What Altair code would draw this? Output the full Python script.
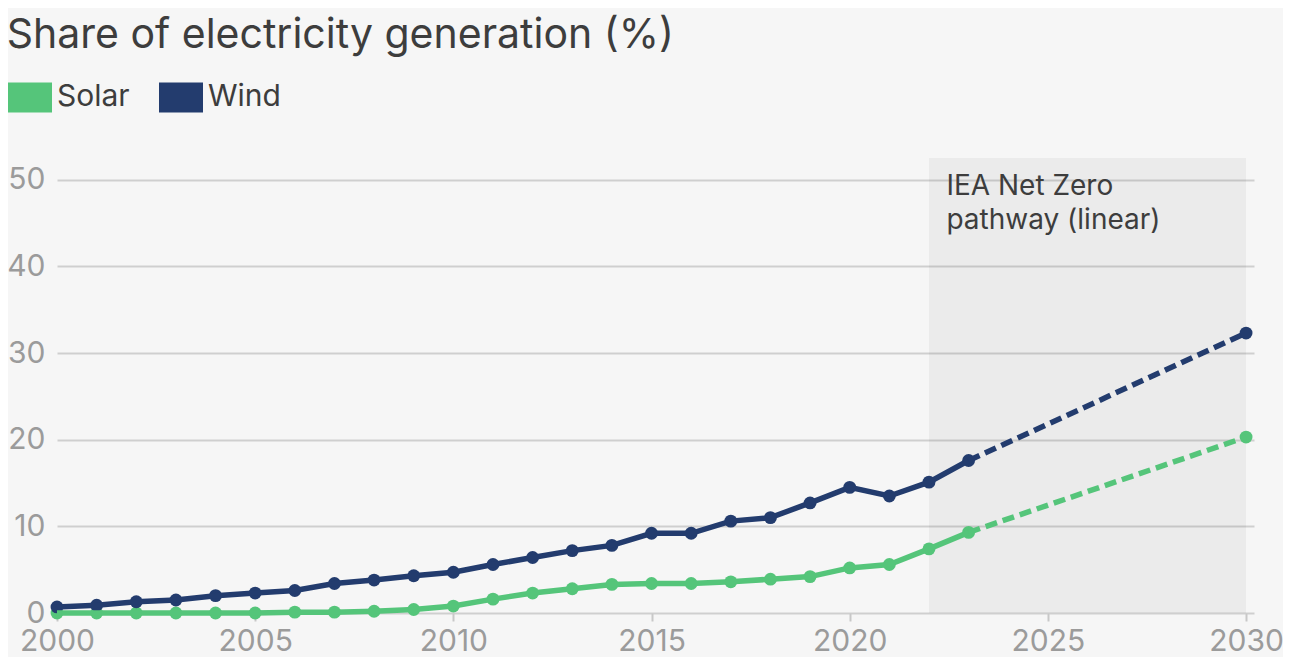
import altair as alt
import pandas as pd

# ---- data ----
years = list(range(2000, 2024))
solar = [0.0, 0.0, 0.0, 0.0, 0.0, 0.0, 0.1, 0.1, 0.2, 0.4, 0.8, 1.6, 2.3, 2.8,
         3.3, 3.4, 3.4, 3.6, 3.9, 4.2, 5.2, 5.6, 7.4, 9.3]
wind = [0.7, 0.9, 1.3, 1.5, 2.0, 2.3, 2.6, 3.4, 3.8, 4.3, 4.7, 5.6, 6.4, 7.2,
        7.8, 9.2, 9.2, 10.6, 11.0, 12.7, 14.5, 13.5, 15.1, 17.6]
pathway_years = [2023, 2030]
solar_pathway = [9.3, 20.3]
wind_pathway = [17.6, 32.3]
series = ["Solar", "Wind"]
colors = ["#55c57a", "#233c6e"]
shade_years = [2022, 2030]
shade_values = [0, 52.5]
annotation_text = ["IEA Net Zero", "pathway (linear)"]
annotation_pos = [2022.44, 50.8]
x_ticks = [2000, 2005, 2010, 2015, 2020, 2025, 2030]
y_ticks = [0, 10, 20, 30, 40, 50]

FONT = "Inter"

hist = pd.DataFrame({
    "year": years * 2,
    "value": solar + wind,
    "series": ["Solar"] * len(years) + ["Wind"] * len(years),
})
path = pd.DataFrame({
    "year": pathway_years * 2,
    "value": solar_pathway + wind_pathway,
    "series": ["Solar"] * 2 + ["Wind"] * 2,
})
pts = pd.concat([hist, path[path["year"] == 2030]], ignore_index=True)
shade = pd.DataFrame({"x": [shade_years[0]], "x2": [shade_years[1]],
                      "y": [shade_values[0]], "y2": [shade_values[1]]})
ann = pd.DataFrame({"year": [annotation_pos[0]], "value": [annotation_pos[1]],
                    "label": ["\n".join(annotation_text)]})

xscale = alt.Scale(domain=[2000, 2030.2], nice=False, zero=False)
yscale = alt.Scale(domain=[0, 52.5], nice=False)
cscale = alt.Scale(domain=series, range=colors)

x_axis = alt.Axis(values=x_ticks, format="d", title=None, grid=False, domain=False,
                  ticks=True, tickSize=8, tickWidth=2, tickColor="#c8c8c8",
                  labelFontSize=30, labelFont=FONT, labelColor="#9b9b9b",
                  labelPadding=5, labelBaseline="top", labelFlush=False)
y_axis = alt.Axis(values=y_ticks, title=None, grid=True, gridColor="#cfcfcf",
                  gridWidth=2, domain=False, ticks=False, labelFontSize=30,
                  labelFont=FONT, labelColor="#9b9b9b", labelPadding=12)

X = alt.X("year:Q", scale=xscale, axis=x_axis)
Y = alt.Y("value:Q", scale=yscale, axis=y_axis)

shade_layer = alt.Chart(shade).mark_rect(color="#000000", opacity=0.045).encode(
    x=alt.X("x:Q", scale=xscale, axis=x_axis), x2="x2:Q",
    y=alt.Y("y:Q", scale=yscale, axis=y_axis), y2="y2:Q",
)

legend = alt.Legend(
    orient="none", legendX=-49, legendY=-83, direction="horizontal", title=None,
    symbolType="M-1,-0.682H1V0.682H-1Z", symbolSize=1936, symbolStrokeWidth=0,
    symbolOpacity=1, labelFontSize=30, labelFont=FONT, labelColor="#3d3d3d",
    labelOffset=5, columnPadding=29, padding=0,
)

points = alt.Chart(pts).mark_circle(size=165, opacity=1).encode(
    x=X, y=Y, color=alt.Color("series:N", scale=cscale, legend=legend),
)
solid = alt.Chart(hist).mark_line(strokeWidth=5.5).encode(
    x=X, y=Y, color=alt.Color("series:N", scale=cscale, legend=None),
)
dashed = alt.Chart(path).mark_line(strokeWidth=5.5, strokeDash=[12, 6]).encode(
    x=X, y=Y, color=alt.Color("series:N", scale=cscale, legend=None),
)
text = alt.Chart(ann).mark_text(
    align="left", baseline="top", font=FONT, fontSize=28, color="#3d3d3d",
    lineBreak="\n", lineHeight=34,
).encode(x=X, y=Y, text="label:N")

chart = alt.layer(shade_layer, points, solid, dashed, text).properties(
    width=1197, height=455,
    title=alt.TitleParams(
        "Share of electricity generation (%)", anchor="start", frame="bounds",
        fontSize=41, font=FONT, fontWeight="normal", color="#3d3d3d", offset=18,
    ),
    autosize=alt.AutoSizeParams(type="none"),
    padding={"left": 49, "top": 150, "right": 29, "bottom": 44},
).configure(background="#f6f6f6").configure_view(stroke=None)

chart.save("out.html", embed_options={"renderer": "svg", "actions": False})
